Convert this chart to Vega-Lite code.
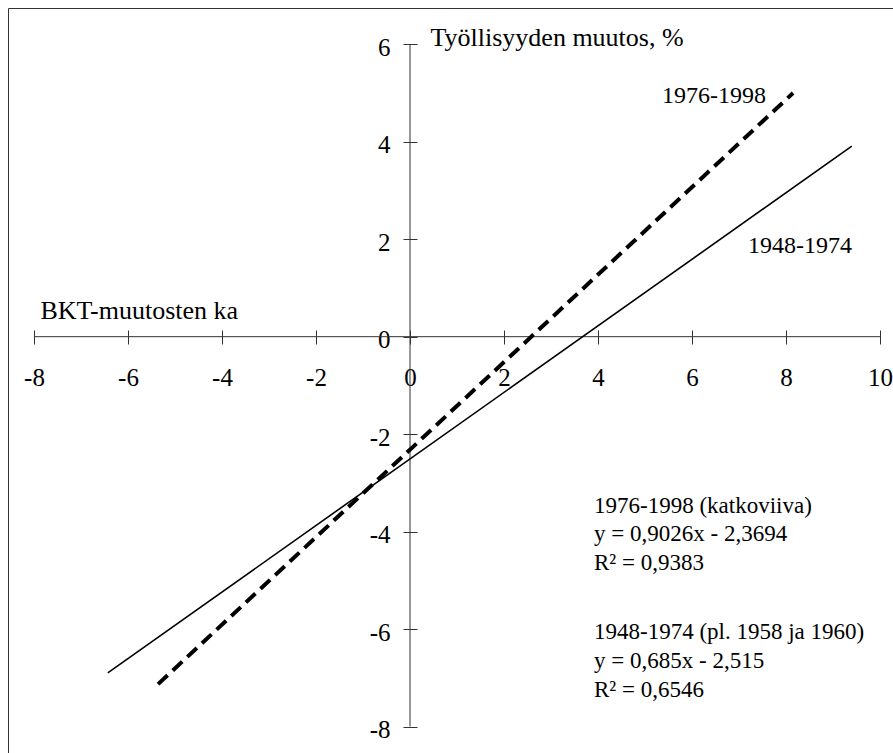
{
  "$schema": "https://vega.github.io/schema/vega-lite/v6.json",
  "width": 895,
  "height": 755,
  "autosize": {"type": "none"},
  "padding": {"left": 8, "top": 8, "right": -10, "bottom": -10},
  "background": "white",
  "config": {
    "view": {"stroke": "#333333", "strokeWidth": 1},
    "font": "Liberation Serif"
  },
  "datasets": {
    "axislines": [
      {"x": -8, "x2": 10, "y": 0, "y2": 0},
      {"x": 0, "x2": 0, "y": -8, "y2": 6}
    ],
    "lines": [
      {"period": "1976-1998", "x": -5.36, "y": -7.13},
      {"period": "1976-1998", "x": 8.15, "y": 5.0},
      {"period": "1948-1974", "x": -6.43, "y": -6.9},
      {"period": "1948-1974", "x": 9.4, "y": 3.91}
    ],
    "linelabels": [
      {"text": "1976-1998", "x": 5.362, "y": 4.802},
      {"text": "1948-1974", "x": 7.191, "y": 1.718}
    ],
    "notes": [
      {"text": "1976-1998 (katkoviiva)", "x": 3.915, "y": -3.618},
      {"text": "y = 0,9026x - 2,3694", "x": 3.915, "y": -4.193},
      {"text": "R² = 0,9383", "x": 3.915, "y": -4.788},
      {"text": "1948-1974 (pl. 1958 ja 1960)", "x": 3.915, "y": -6.204},
      {"text": "y = 0,685x - 2,515", "x": 3.915, "y": -6.799},
      {"text": "R² = 0,6546", "x": 3.915, "y": -7.394}
    ]
  },
  "layer": [
    {
      "data": {"name": "axislines"},
      "mark": {"type": "rule", "color": "#333333", "strokeWidth": 1},
      "encoding": {
        "x": {
          "field": "x", "type": "quantitative",
          "scale": {"domain": [-8.553, 10.489], "nice": false, "zero": false},
          "axis": {
            "orient": "bottom", "offset": -433,
            "values": [-8, -6, -4, -2, 0, 2, 4, 6, 8, 10],
            "labelExpr": "datum.value < 0 ? '-' + abs(datum.value) : '' + datum.value",
            "domain": false, "grid": false,
            "tickSize": 14, "tickColor": "#333333", "tickWidth": 1,
            "labelFontSize": 25, "labelPadding": 41, "labelBaseline": "alphabetic",
            "labelColor": "black", "labelFlush": false, "labelOverlap": false,
            "title": "BKT-muutosten ka",
            "titleX": 32, "titleY": -12, "titleAlign": "left", "titleBaseline": "alphabetic",
            "titleFontSize": 26, "titleFontWeight": "normal", "titleColor": "black"
          }
        },
        "x2": {"field": "x2"},
        "y": {
          "field": "y", "type": "quantitative",
          "scale": {"domain": [-8.749, 6.745], "nice": false, "zero": false},
          "axis": {
            "orient": "left", "offset": -409,
            "values": [-8, -6, -4, -2, 0, 2, 4, 6],
            "labelExpr": "datum.value < 0 ? '-' + abs(datum.value) : '' + datum.value",
            "domain": false, "grid": false,
            "tickSize": 14, "tickColor": "#333333", "tickWidth": 1,
            "labelFontSize": 25, "labelPadding": 13, "labelBaseline": "middle", "labelOffset": 3,
            "labelColor": "black", "labelFlush": false, "labelOverlap": false,
            "title": "Työllisyyden muutos, %",
            "titleAngle": 0, "titleX": 13, "titleY": 37, "titleAlign": "left", "titleBaseline": "alphabetic",
            "titleFontSize": 26, "titleFontWeight": "normal", "titleColor": "black"
          }
        },
        "y2": {"field": "y2"}
      }
    },
    {
      "data": {"name": "lines"},
      "transform": [{"filter": "datum.period === '1948-1974'"}],
      "mark": {"type": "line", "color": "black", "strokeWidth": 1.6},
      "encoding": {
        "x": {"field": "x", "type": "quantitative"},
        "y": {"field": "y", "type": "quantitative"}
      }
    },
    {
      "data": {"name": "lines"},
      "transform": [{"filter": "datum.period === '1976-1998'"}],
      "mark": {"type": "line", "color": "black", "strokeWidth": 4, "strokeDash": [13, 7]},
      "encoding": {
        "x": {"field": "x", "type": "quantitative"},
        "y": {"field": "y", "type": "quantitative"}
      }
    },
    {
      "data": {"name": "linelabels"},
      "mark": {"type": "text", "align": "left", "baseline": "alphabetic", "fontSize": 24, "color": "black"},
      "encoding": {
        "x": {"field": "x", "type": "quantitative"},
        "y": {"field": "y", "type": "quantitative"},
        "text": {"field": "text"}
      }
    },
    {
      "data": {"name": "notes"},
      "mark": {"type": "text", "align": "left", "baseline": "alphabetic", "fontSize": 23, "color": "black"},
      "encoding": {
        "x": {"field": "x", "type": "quantitative"},
        "y": {"field": "y", "type": "quantitative"},
        "text": {"field": "text"}
      }
    }
  ]
}
